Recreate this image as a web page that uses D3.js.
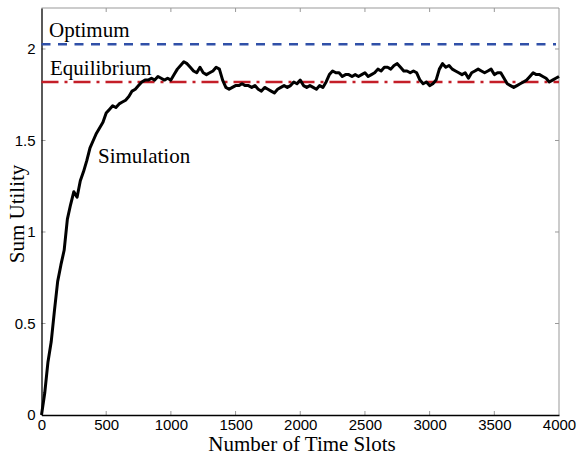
<!DOCTYPE html>
<html><head><meta charset="utf-8">
<script src="https://cdn.jsdelivr.net/npm/d3@7"></script>
<style>body{margin:0;background:#fff}svg{display:block}</style>
</head><body><svg id="c" width="579" height="456"></svg>
<script>
const xTicks = [0,500,1000,1500,2000,2500,3000,3500,4000];
const yTicks = [0,0.5,1,1.5,2];
const optimumValue = 2.026;
const equilibriumValue = 1.82;
const timeSlots = [0,25,50,75,100,125,150,175,200,225,250,275,300,325,350,375,400,425,450,475,500,525,550,575,600,625,650,675,700,725,750,775,800,825,850,875,900,925,950,975,1000,1025,1050,1075,1100,1125,1150,1175,1200,1225,1250,1275,1300,1325,1350,1375,1400,1425,1450,1475,1500,1525,1550,1575,1600,1625,1650,1675,1700,1725,1750,1775,1800,1825,1850,1875,1900,1925,1950,1975,2000,2025,2050,2075,2100,2125,2150,2175,2200,2225,2250,2275,2300,2325,2350,2375,2400,2425,2450,2475,2500,2525,2550,2575,2600,2625,2650,2675,2700,2725,2750,2775,2800,2825,2850,2875,2900,2925,2950,2975,3000,3025,3050,3075,3100,3125,3150,3175,3200,3225,3250,3275,3300,3325,3350,3375,3400,3425,3450,3475,3500,3525,3550,3575,3600,3625,3650,3675,3700,3725,3750,3775,3800,3825,3850,3875,3900,3925,3950,3975,4000];
const sumUtility = [0,0.12,0.29,0.40,0.57,0.73,0.82,0.90,1.07,1.15,1.22,1.19,1.28,1.33,1.39,1.46,1.50,1.54,1.57,1.60,1.65,1.67,1.69,1.68,1.70,1.71,1.72,1.74,1.77,1.78,1.80,1.82,1.83,1.83,1.84,1.83,1.85,1.84,1.83,1.84,1.83,1.86,1.89,1.91,1.93,1.92,1.90,1.88,1.87,1.90,1.87,1.86,1.87,1.88,1.90,1.89,1.83,1.79,1.78,1.79,1.80,1.80,1.81,1.80,1.80,1.79,1.80,1.78,1.77,1.79,1.78,1.77,1.76,1.78,1.79,1.80,1.79,1.80,1.82,1.81,1.83,1.80,1.79,1.80,1.79,1.78,1.80,1.79,1.82,1.86,1.88,1.87,1.87,1.85,1.86,1.86,1.85,1.86,1.85,1.86,1.87,1.85,1.86,1.87,1.89,1.88,1.90,1.90,1.89,1.91,1.92,1.90,1.88,1.88,1.87,1.88,1.87,1.83,1.81,1.82,1.80,1.81,1.83,1.89,1.92,1.90,1.91,1.89,1.88,1.87,1.86,1.87,1.84,1.87,1.88,1.89,1.88,1.87,1.88,1.89,1.86,1.87,1.87,1.84,1.81,1.80,1.79,1.80,1.81,1.82,1.83,1.85,1.87,1.86,1.86,1.85,1.84,1.82,1.83,1.84,1.85];
const labels = {optimum:"Optimum", equilibrium:"Equilibrium", simulation:"Simulation", xTitle:"Number of Time Slots", yTitle:"Sum Utility"};

const svg = d3.select("#c");
const L=41.5, R=559, T=8, B=415;
const x = d3.scaleLinear().domain([0,4000]).range([L,R]);
const y = d3.scaleLinear().domain([0,2.224]).range([B,T]);
const serif = "'Liberation Serif','Times New Roman',Times,serif";
const sans = "'Liberation Sans',Arial,Helvetica,sans-serif";
const grey = "#999";

svg.append("line").attr("x1",L).attr("x2",R).attr("y1",T).attr("y2",T).attr("stroke",grey).attr("stroke-width",1);
svg.append("line").attr("x1",R).attr("x2",R).attr("y1",T).attr("y2",B).attr("stroke",grey).attr("stroke-width",1);

xTicks.forEach(v=>{
  if(v===0||v===4000) return;
  svg.append("line").attr("x1",x(v)).attr("x2",x(v)).attr("y1",B).attr("y2",B-4).attr("stroke",grey);
  svg.append("line").attr("x1",x(v)).attr("x2",x(v)).attr("y1",T).attr("y2",T+4).attr("stroke",grey);
});
yTicks.forEach(v=>{
  if(v===0) return;
  svg.append("line").attr("x1",L).attr("x2",L+4).attr("y1",y(v)).attr("y2",y(v)).attr("stroke",grey);
  svg.append("line").attr("x1",R).attr("x2",R-4).attr("y1",y(v)).attr("y2",y(v)).attr("stroke",grey);
});

const xAxis = svg.append("g").attr("transform",`translate(0,${B})`)
  .call(d3.axisBottom(x).tickValues(xTicks).tickSize(0).tickPadding(4).tickFormat(d3.format("d")));
xAxis.select(".domain").attr("stroke","#000").attr("stroke-width",1.3);
xAxis.selectAll("text").style("font-family",sans).style("font-size","15px").attr("fill","#000").attr("dy","0.72em");
const yAxis = svg.append("g").attr("transform",`translate(${L},0)`)
  .call(d3.axisLeft(y).tickValues(yTicks).tickSize(0).tickPadding(6).tickFormat(d=>String(d)));
yAxis.select(".domain").attr("stroke","#000").attr("stroke-width",1.3);
yAxis.selectAll("text").style("font-family",sans).style("font-size","15px").attr("fill","#000");

svg.append("line").attr("x1",L).attr("x2",R-3).attr("y1",y(optimumValue)).attr("y2",y(optimumValue))
  .attr("stroke","#3050a8").attr("stroke-width",2.6).attr("stroke-dasharray","9,7.5");
svg.append("line").attr("x1",L).attr("x2",R).attr("y1",y(equilibriumValue)).attr("y2",y(equilibriumValue))
  .attr("stroke","#c41e28").attr("stroke-width",2.4).attr("stroke-dasharray","17,6,3,6");

const data = timeSlots.map((t,i)=>[t,sumUtility[i]]);
svg.append("path").datum(data).attr("fill","none").attr("stroke","#000").attr("stroke-width",3)
  .attr("stroke-linejoin","round")
  .attr("d",d3.line().x(d=>x(d[0])).y(d=>y(d[1])));

function lab(t,xp,yp,size,anchor,tr){
  const s = svg.append("text").style("font-family",serif).style("font-size",size+"px").attr("fill","#000").text(t);
  if(tr) s.attr("transform",tr); else s.attr("x",xp).attr("y",yp);
  if(anchor) s.attr("text-anchor",anchor);
  return s;
}
lab(labels.optimum,49,37,21);
lab(labels.equilibrium,50,75,21);
lab(labels.simulation,98,163,21);
lab(labels.xTitle,302,451,21,"middle");
lab(labels.yTitle,0,0,21,"middle","translate(24,214) rotate(-90)");
</script></body></html>
